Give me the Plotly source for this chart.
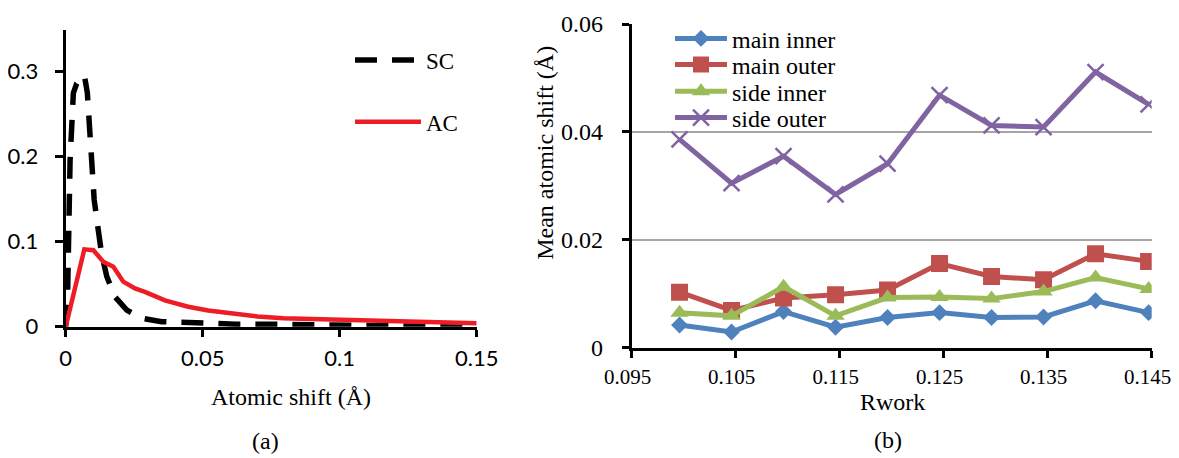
import plotly.graph_objects as go

# ---------- Panel (a) data ----------
sc_x = [0.0, 0.0007, 0.0016, 0.0028, 0.0040, 0.0068, 0.0079, 0.0086, 0.0095, 0.0104,
        0.0117, 0.0131, 0.0150, 0.0180, 0.0223, 0.0277, 0.0350, 0.0470, 0.0620,
        0.0770, 0.0890, 0.1000, 0.1200, 0.1500]
sc_y = [0.0, 0.039, 0.196, 0.275, 0.286, 0.296, 0.275, 0.235, 0.188, 0.149,
        0.118, 0.086, 0.059, 0.035, 0.0196, 0.0099, 0.0059, 0.004, 0.003,
        0.003, 0.002, 0.0015, 0.001, 0.0005]

ac_x = [0.0, 0.0068, 0.0101, 0.0137, 0.0174, 0.0210, 0.0253, 0.0289, 0.0362, 0.0447,
        0.0520, 0.0600, 0.0700, 0.0794, 0.0900, 0.0989, 0.1050, 0.1160, 0.1250,
        0.1340, 0.1400, 0.1500]
ac_y = [0.0, 0.091, 0.090, 0.0765, 0.0706, 0.053, 0.045, 0.041, 0.031, 0.0235,
        0.019, 0.016, 0.012, 0.0099, 0.009, 0.0079, 0.0075, 0.0059, 0.005,
        0.005, 0.005, 0.004]

# ---------- Panel (b) data ----------
rwork = [0.0996, 0.1046, 0.1096, 0.1146, 0.1196, 0.1246, 0.1296, 0.1346, 0.1396, 0.1447]
main_inner = [0.0042, 0.0029, 0.0067, 0.0038, 0.0056, 0.0065, 0.0056, 0.0057, 0.0087, 0.0065]
main_outer = [0.0103, 0.0069, 0.0092, 0.0098, 0.0107, 0.0156, 0.0132, 0.0126, 0.0174, 0.0160]
side_inner = [0.0065, 0.0059, 0.0113, 0.0059, 0.0093, 0.0094, 0.0091, 0.0104, 0.0130, 0.0109]
side_outer = [0.0386, 0.0305, 0.0355, 0.0284, 0.0341, 0.0468, 0.0412, 0.0409, 0.0511, 0.0451]

a_xticks = [0, 0.05, 0.1, 0.15]
a_xticklabels = ["0", "0.05", "0.1", "0.15"]
a_yticks = [0, 0.1, 0.2, 0.3]
a_yticklabels = ["0", "0.1", "0.2", "0.3"]
b_xticks = [0.095, 0.105, 0.115, 0.125, 0.135, 0.145]
b_xticklabels = ["0.095", "0.105", "0.115", "0.125", "0.135", "0.145"]
b_yticks = [0, 0.02, 0.04, 0.06]
b_yticklabels = ["0", "0.02", "0.04", "0.06"]

# page body has an 8px default margin -> figure is drawn 8px in from the corner
OFF = 8
W, H = 1179 - OFF, 458 - OFF
SERIF = "Liberation Serif, Times New Roman, serif"
SANS = "Lato, Liberation Sans, sans-serif"

BLUE, RED, GREEN, PURPLE = "#4F81BD", "#C0504D", "#9BBB59", "#8064A2"

fig = go.Figure()

# Panel (a)
fig.add_trace(go.Scatter(x=sc_x, y=sc_y, mode="lines", name="SC",
                         line=dict(color="black", width=5.5, dash="22px,15px"),
                         xaxis="x", yaxis="y", legend="legend5"))
fig.add_trace(go.Scatter(x=ac_x, y=ac_y, mode="lines", name="AC",
                         line=dict(color="#EE1C24", width=4.5),
                         xaxis="x", yaxis="y", legend="legend6"))

# Panel (b)
series = [
    ("main inner", main_inner, BLUE, "diamond", 13, "legend"),
    ("main outer", main_outer, RED, "square", 17, "legend2"),
    ("side inner", side_inner, GREEN, "triangle-up", 16, "legend3"),
    ("side outer", side_outer, PURPLE, "x-thin", 16, "legend4"),
]
for name, vals, col, sym, sz, lg in series:
    mk = dict(symbol=sym, size=sz, color=col)
    if sym == "x-thin":
        mk["line"] = dict(color=col, width=2.5)
    fig.add_trace(go.Scatter(x=rwork, y=vals, mode="lines+markers", name=name,
                             line=dict(color=col, width=5), marker=mk,
                             xaxis="x2", yaxis="y2", legend=lg))


def px_x(p):
    return (p - OFF) / W


def px_y(p):
    return 1 - (p - OFF) / H


axis_common = dict(showline=True, linecolor="black", linewidth=3, ticks="outside",
                   tickcolor="black", tickwidth=3, zeroline=False, mirror=False,
                   automargin=False)


def legend_at(x0, yc, itemw, size):
    return dict(x=px_x(x0), y=px_y(yc), xanchor="left", yanchor="middle",
                bgcolor="rgba(0,0,0,0)", itemwidth=itemw, borderwidth=0,
                font=dict(family=SERIF, size=size, color="black"))


fig.update_layout(
    width=W, height=H,
    margin=dict(l=0, r=0, t=0, b=0, pad=0, autoexpand=False),
    paper_bgcolor="white", plot_bgcolor="white",
    xaxis=dict(domain=[px_x(65.7), px_x(476.7)], range=[0, 0.15], anchor="y",
               tickvals=a_xticks, ticktext=a_xticklabels, ticklen=7,
               tickfont=dict(family=SANS, size=22, color="black"),
               ticklabelstandoff=3, showgrid=False, **axis_common),
    yaxis=dict(domain=[px_y(326.7), px_y(30)], range=[0, 0.349], anchor="x",
               tickvals=a_yticks, ticktext=a_yticklabels, ticklen=8,
               tickfont=dict(family=SANS, size=22, color="black"),
               ticklabelstandoff=12, showgrid=False, **axis_common),
    xaxis2=dict(domain=[px_x(631.7), px_x(1151.7)], range=[0.095, 0.145], anchor="y2",
                tickvals=b_xticks, ticktext=b_xticklabels, ticklen=7,
                tickfont=dict(family=SERIF, size=21, color="black"),
                ticklabelstandoff=1, ticklabelshift=-4, ticklabeloverflow="allow",
                showgrid=False, **axis_common),
    yaxis2=dict(domain=[px_y(347.7), px_y(24)], range=[0, 0.06], anchor="x2",
                tickvals=b_yticks, ticktext=b_yticklabels, ticklen=7,
                tickfont=dict(family=SERIF, size=24, color="black"),
                ticklabelstandoff=14, showgrid=True, gridcolor="#A6A6A6", gridwidth=2,
                **axis_common),
    legend=legend_at(670, 38.8, 52, 24),
    legend2=legend_at(670, 65.0, 52, 24),
    legend3=legend_at(670, 91.7, 52, 24),
    legend4=legend_at(670, 118.0, 52, 24),
    legend5=legend_at(350, 60.0, 66, 23),
    legend6=legend_at(350, 121.7, 66, 23),
    showlegend=True,
)

annos = [
    ("Atomic shift (Å)", 291, 396.7, 0),
    ("(a)", 265, 441, 0),
    ("Rwork", 892, 402, 0),
    ("(b)", 888, 440, 0),
    ("Mean atomic shift (Å)", 545.5, 153.3, -90),
]
for txt, x, y, ang in annos:
    fig.add_annotation(text=txt, x=px_x(x), y=px_y(y), xref="paper", yref="paper",
                       showarrow=False, xanchor="center", yanchor="middle",
                       textangle=ang, font=dict(family=SERIF, size=24, color="black"))

fig.write_html("out.html")
